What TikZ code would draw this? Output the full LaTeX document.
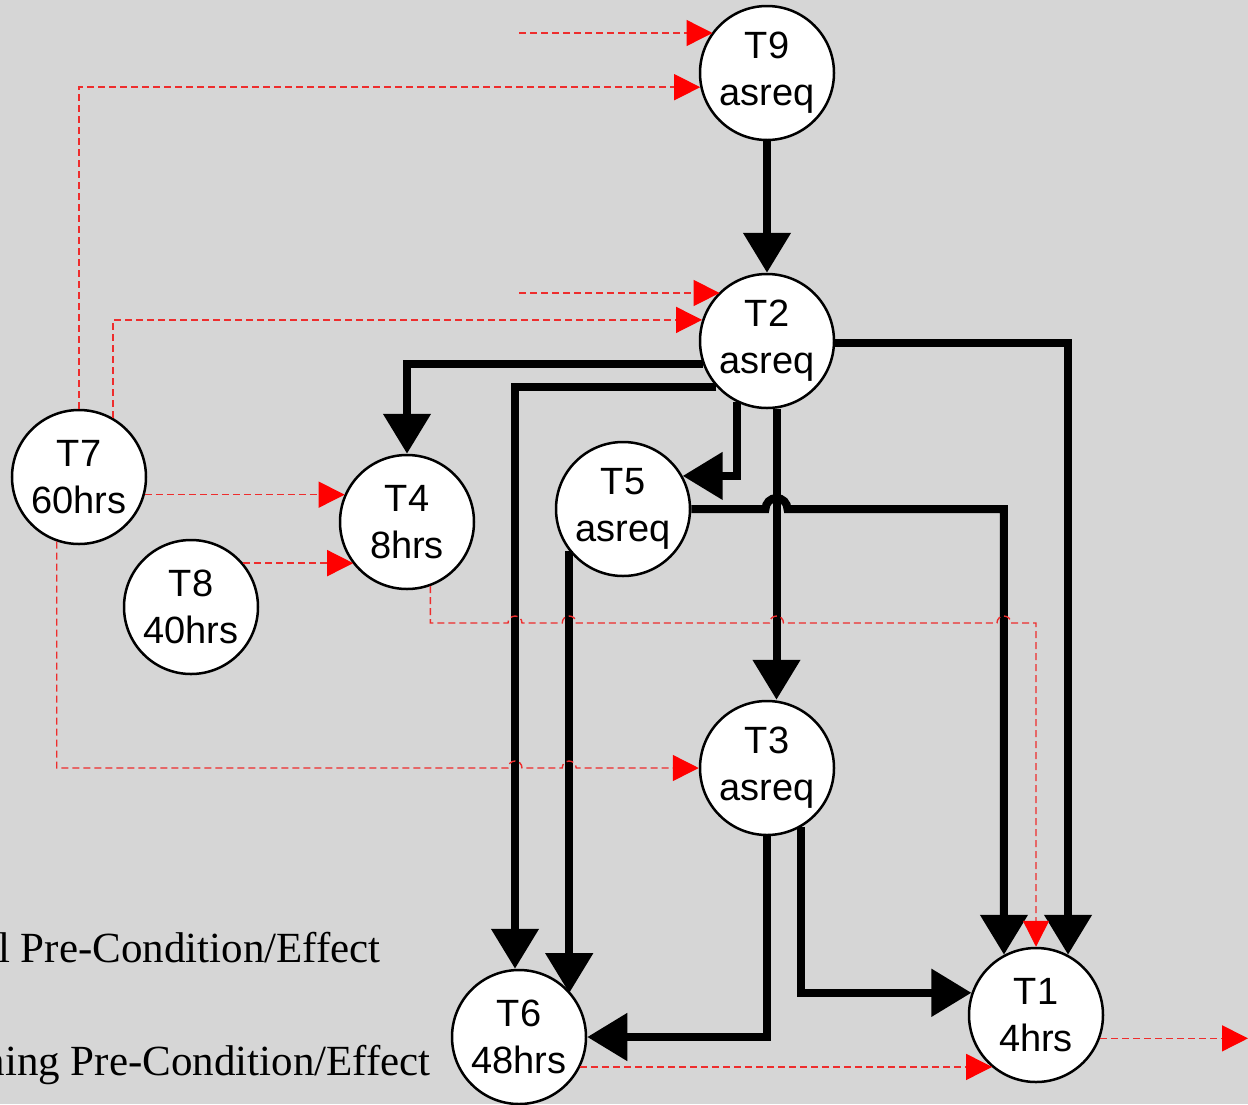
\documentclass[tikz,border=0pt]{standalone}
\usepackage{fontspec}
\setmainfont{Liberation Serif}
\newfontfamily\arialf{Liberation Sans}
\usetikzlibrary{arrows.meta,calc}
\definecolor{bgc}{RGB}{214,214,214}
\definecolor{dashred}{RGB}{238,45,45}
\begin{document}
\begin{tikzpicture}[x=1pt,y=-1pt,
  task/.style={circle,draw,line width=2.5pt,fill=white,minimum size=134pt,inner sep=0pt,align=center,
    font=\arialf\fontsize{38}{47}\selectfont},
  strongline/.style={line width=8pt,-{Triangle[length=40pt,width=46pt]}},
  weakline/.style={draw=dashred,line width=1.4pt,dash pattern=on 7pt off 4pt,
    -{Triangle[length=26pt,width=26pt,color=red,fill=red]}},
  legend/.style={anchor=base east,inner sep=0pt,font=\fontsize{43}{50}\selectfont}]
\useasboundingbox (0,0) rectangle (1248,1104);
\clip (0,0) rectangle (1248,1104);
\fill[bgc] (0,0) rectangle (1248,1104);

% nodes
\node[task] (T9) at (767,73) {T9\\asreq};
\node[task] (T2) at (767,341) {T2\\asreq};
\node[task] (T7) at (79,477) {T7\\60hrs};
\node[task] (T4) at (407,522) {T4\\8hrs};
\node[task] (T8) at (191,607) {T8\\40hrs};
\node[task] (T5) at (623,509) {T5\\asreq};
\node[task] (T3) at (767,768) {T3\\asreq};
\node[task] (T6) at (519,1037) {T6\\48hrs};
\node[task] (T1) at (1036,1015) {T1\\4hrs};

% legend texts
\node[legend] (leg1) at (381,962) {l Pre-Condition/Effect};
\node[legend] (leg2) at (431,1075) {ning Pre-Condition/Effect};

% free ends
\coordinate (a0) at (519,33);
\coordinate (c0) at (519,293);
\coordinate (jend) at (1248,1038);
\coordinate (gy) at (0,623);
\coordinate (hy) at (0,768);

% strong (black) connectors
\draw[strongline] (T9) -- (T2);
\draw[strongline] (T2.200) -| (T4);
\draw[strongline] (T2.222) -| ([xshift=-4pt]T6.north);
\draw[strongline] (T2.244) |- (T5.29);
\draw[strongline] (T2.278) -- (T2.278 |- T3.north);
\draw[strongline] (T2.358) -| (T1.62);
\coordinate (j1) at (T2.278 |- T5.east);
\draw[strongline] (T5.east) -- ([xshift=-11pt]j1) arc[start angle=180,end angle=0,radius=11pt] -| (T1.118);
\draw[strongline] (T5.218) -- (T5.218 |- T6.40);
\draw[strongline] (T3.south) |- (T6.east);
\draw[strongline] (T3.300) |- (T1.161);

% weak (red dashed) connectors
\draw[weakline] (a0) -- (a0 -| T9.143);
\draw[weakline] (T7.north) |- (T9.192);
\draw[weakline] (c0) -- (c0 -| T2.134);
\draw[weakline] (T7.60) |- (T2.162);
\draw[weakline] (T7.345) -- (T7.345 -| T4.156);
\draw[weakline] (T8.40) -- (T8.40 -| T4.218);
\draw[weakline] (T4.290) |- ($([xshift=-4pt]T6.north |- gy)+(-7,0)$)
  arc[start angle=180,end angle=0,radius=7pt]
  -- ($(T5.218 |- gy)+(-7,0)$) arc[start angle=180,end angle=0,radius=7pt]
  -- ($(T2.278 |- gy)+(-7,0)$) arc[start angle=180,end angle=0,radius=7pt]
  -- ($(T1.118 |- gy)+(-7,0)$) arc[start angle=180,end angle=0,radius=7pt]
  -- (T1.north |- gy) -- (T1.north);
\draw[weakline] (T7.251) |- ($([xshift=-4pt]T6.north |- hy)+(-7,0)$)
  arc[start angle=180,end angle=0,radius=7pt]
  -- ($(T5.218 |- hy)+(-7,0)$) arc[start angle=180,end angle=0,radius=7pt]
  -- (T3.west);
\draw[weakline] (T6.334) -- (T6.334 -| T1.230);
\draw[weakline] (T1.340) -- (T1.340 -| jend);
\end{tikzpicture}
\end{document}
